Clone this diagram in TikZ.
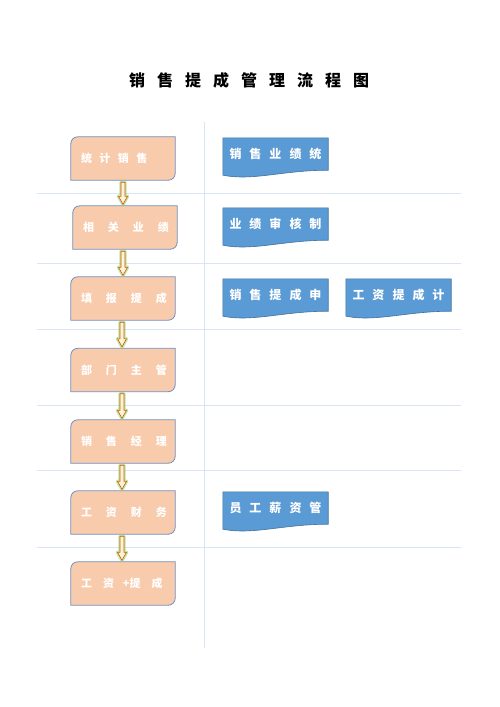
\documentclass[tikz,border=0pt]{standalone}
\usepackage{fontspec}
\newfontfamily\cjk{Noto Sans CJK SC}
\usetikzlibrary{calc}
\pgfdeclarelayer{bg}
\pgfsetlayers{bg,main}
\definecolor{peach}{RGB}{248,203,173}
\definecolor{peachline}{RGB}{112,142,192}
\definecolor{docblue}{RGB}{91,155,213}
\definecolor{doclinec}{RGB}{65,113,156}
\definecolor{gridc}{RGB}{218,228,244}
\definecolor{arrline}{RGB}{197,90,17}
\definecolor{arrfill}{RGB}{255,242,214}
\definecolor{glowc}{RGB}{146,208,80}
\newcommand\gp[1]{\hspace{#1pt}}
\newcommand\stepbox[4]{%
  \node[stepnode] (#1) at (#2,#3) {\hspace*{5pt}#4};
  \begin{pgfonlayer}{bg}
  \draw[stepline] ($(#1.north west)+(7,0)$) -- (#1.north east) -- ($(#1.south east)+(0,-7)$)
    .. controls ($(#1.south east)+(0,-3)$) and ($(#1.south east)+(-3,0)$) .. ($(#1.south east)+(-7,0)$)
    -- (#1.south west) -- ($(#1.north west)+(0,7)$)
    .. controls ($(#1.north west)+(0,3)$) and ($(#1.north west)+(3,0)$) .. ($(#1.north west)+(7,0)$) -- cycle;
  \end{pgfonlayer}}
\newcommand\docbox[4]{%
  \node[docnode] (#1) at (#2,#3) {#4};
  \begin{pgfonlayer}{bg}
  \draw[docline] (#1.south east) -- (#1.north east) -- (#1.north west) -- ($(#1.south west)+(0,5)$)
    .. controls ($(#1.south west)+(30,11)$) and ($(#1.south west)+(60,0)$) .. (#1.south east) -- cycle;
  \end{pgfonlayer}}
\newcommand\flowarr[2]{%
  \coordinate (m#1#2) at ($(#1.south)!0.5!(#2.north)+(-1,0)$);
  \coordinate (t#1#2) at ($(m#1#2 |- #1.south)+(0,2)$);
  \coordinate (b#1#2) at ($(m#1#2 |- #2.north)+(0,-1.5)$);
  \foreach \st in {glowline,flowarrow}{
  \path[\st] ($(t#1#2)+(-2,0)$) -- ($(b#1#2)+(-2,-8)$) -- ($(b#1#2)+(-4.5,-8)$) -- (b#1#2)
    -- ($(b#1#2)+(4.5,-8)$) -- ($(b#1#2)+(2,-8)$) -- ($(t#1#2)+(2,0)$) -- cycle;}}
\begin{document}
\begin{tikzpicture}[x=1pt,y=-1pt,
  stepnode/.style={minimum width=104pt, minimum height=43pt, inner xsep=5pt, inner ysep=0pt,
    text width=94pt, align=left, font=\cjk\bfseries\fontsize{11}{13}\selectfont, text=white},
  stepline/.style={draw=peachline, fill=peach, line width=0.8pt},
  docnode/.style={minimum width=105pt, minimum height=32pt, inner sep=0pt,
    font=\cjk\bfseries\fontsize{12}{14}\selectfont, text=white},
  docline/.style={draw=doclinec, fill=docblue, line width=0.6pt},
  gridline/.style={draw=gridc, line width=0.8pt},
  flowarrow/.style={draw=arrline, fill=arrfill, line width=0.6pt, line join=miter},
  glowline/.style={draw=glowc, line width=3.4pt, opacity=0.55, line join=round}
]
\useasboundingbox (0,0) rectangle (500,707);
% grid
\foreach \yy in {193.5,263.5,329,405.5,470.5,547.5}{\draw[gridline] (37,\yy) -- (461,\yy);}
\draw[gridline] (204.5,122) -- (204.5,648);
% title
\node[font=\cjk\bfseries\fontsize{16}{18}\selectfont] (title) at (249,80)
  {销\gp{12}售\gp{12}提\gp{12}成\gp{12}管\gp{12}理\gp{12}流\gp{12}程\gp{12}图};
% left column
\stepbox{s1}{123}{158.5}{统\gp{7.5}计\gp{7.5}销\gp{7.5}售}
\stepbox{s2}{125}{227.5}{相\gp{14}关\gp{14}业\gp{14}绩}
\stepbox{s3}{123}{298.5}{填\gp{14}报\gp{14}提\gp{14}成}
\stepbox{s4}{123}{370}{部\gp{14}门\gp{14}主\gp{14}管}
\stepbox{s5}{123}{441.5}{销\gp{14}售\gp{14}经\gp{14}理}
\stepbox{s6}{123}{512.5}{工\gp{14}资\gp{14}财\gp{14}务}
\stepbox{s7}{123}{583.5}{工\gp{11}资\gp{9}+提\gp{11}成}
% arrows
\flowarr{s1}{s2}
\flowarr{s2}{s3}
\flowarr{s3}{s4}
\flowarr{s4}{s5}
\flowarr{s5}{s6}
\flowarr{s6}{s7}
% documents
\docbox{d1}{275.5}{154}{销\gp{8}售\gp{8}业\gp{8}绩\gp{8}统}
\docbox{d2}{275.5}{224}{业\gp{8}绩\gp{8}审\gp{8}核\gp{8}制}
\docbox{d3}{275.5}{295}{销\gp{8}售\gp{8}提\gp{8}成\gp{8}申}
\docbox{d4}{398.5}{295}{工\gp{8}资\gp{8}提\gp{8}成\gp{8}计}
\docbox{d5}{275.5}{508}{员\gp{8}工\gp{8}薪\gp{8}资\gp{8}管}
\end{tikzpicture}
\end{document}
